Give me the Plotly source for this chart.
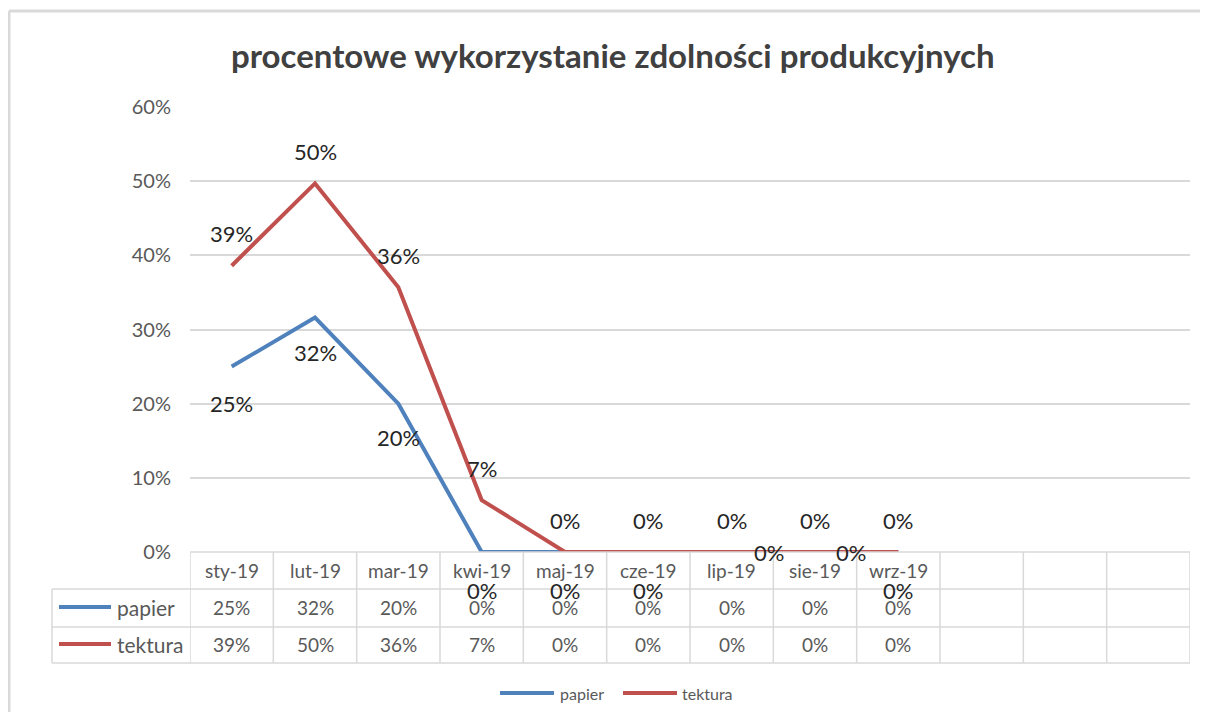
import plotly.graph_objects as go

# ---- data ----
months = ["sty-19", "lut-19", "mar-19", "kwi-19", "maj-19", "cze-19", "lip-19", "sie-19", "wrz-19"]
papier = [0.25, 0.316, 0.20, 0.0, 0.0, 0.0, 0.0, 0.0, 0.0]
tektura = [0.386, 0.497, 0.357, 0.07, 0.0, 0.0, 0.0, 0.0, 0.0]
series_names = ["papier", "tektura"]
title_text = "procentowe wykorzystanie zdolności produkcyjnych"
n_cols = 12  # table has 3 empty columns after the data

# ---- styling ----
OFF = 8                      # page body margin
W, H = 1208 - OFF, 720 - 2 * OFF
FONT = "Lato"
BLUE = "#4f81bd"
RED = "#c0504d"
COLORS = [BLUE, RED]
GRID = "#d9d9d9"
TXT = "#595959"
LBL = "#262626"


def px_x(px):
    return (px - OFF) / W


def px_y(py):
    return 1 - (py - OFF) / H


plot_left, plot_right = 190, 1190
plot_top, plot_bottom = 107, 552
row_y = [552, 589, 627, 663]
row_mid = [570, 607, 644]
table_left = 52

fig = go.Figure()
xs = list(range(len(months)))
fig.add_trace(go.Scatter(x=xs, y=papier, mode="lines", name=series_names[0],
                         line=dict(color=BLUE, width=4), cliponaxis=False))
fig.add_trace(go.Scatter(x=xs, y=tektura, mode="lines", name=series_names[1],
                         line=dict(color=RED, width=4), cliponaxis=False))

annotations = []
shapes = []

# data labels
pap_offsets = [(0, -37), (0, -35), (0, -34), (0, -38), (0, -38), (0, -38), (37, 0), (36, 0), (0, -38)]
for i, v in enumerate(papier):
    dx, dy = pap_offsets[i]
    annotations.append(dict(x=i, y=v, xref="x", yref="y", text=f"{v:.0%}", showarrow=False,
                            xanchor="center", yanchor="middle",
                            xshift=dx, yshift=dy, font=dict(family=FONT, size=22, color=LBL)))
for i, v in enumerate(tektura):
    annotations.append(dict(x=i, y=v, xref="x", yref="y", text=f"{v:.0%}", showarrow=False,
                            xanchor="center", yanchor="middle",
                            xshift=0, yshift=32, font=dict(family=FONT, size=22, color=LBL)))

# data table
for i, m in enumerate(months):
    annotations.append(dict(x=i, y=px_y(row_mid[0]), xref="x", yref="paper", text=m, showarrow=False,
                            xanchor="center", yanchor="middle",
                            font=dict(family=FONT, size=19, color=TXT)))
for r, vals in enumerate([papier, tektura]):
    yy = row_mid[r + 1]
    for i, v in enumerate(vals):
        annotations.append(dict(x=i, y=px_y(yy), xref="x", yref="paper", text=f"{v:.0%}",
                                showarrow=False, xanchor="center", yanchor="middle",
                                font=dict(family=FONT, size=19, color=TXT)))
    annotations.append(dict(x=px_x(115), y=px_y(yy), xref="paper", yref="paper",
                            text=series_names[r], showarrow=False, xanchor="left", yanchor="middle",
                            font=dict(family=FONT, size=21, color=TXT)))
    shapes.append(dict(type="line", xref="paper", yref="paper", x0=px_x(59), x1=px_x(111),
                       y0=px_y(yy), y1=px_y(yy), line=dict(color=COLORS[r], width=4)))

# table grid lines
shapes.append(dict(type="line", xref="x", yref="paper", x0=-0.5, x1=n_cols - 0.5,
                   y0=px_y(row_y[0]), y1=px_y(row_y[0]), line=dict(color=GRID, width=1.5)))
for yy in row_y[1:]:
    shapes.append(dict(type="line", xref="paper", yref="paper", x0=px_x(table_left), x1=px_x(plot_right),
                       y0=px_y(yy), y1=px_y(yy), line=dict(color=GRID, width=1.5)))
for c in range(n_cols + 1):
    shapes.append(dict(type="line", xref="x", yref="paper", x0=c - 0.5, x1=c - 0.5,
                       y0=px_y(row_y[0]), y1=px_y(row_y[-1]), line=dict(color=GRID, width=1.5)))
shapes.append(dict(type="line", xref="paper", yref="paper", x0=px_x(table_left), x1=px_x(table_left),
                   y0=px_y(row_y[1]), y1=px_y(row_y[-1]), line=dict(color=GRID, width=1.5)))

# bottom legend (drawn manually to match the long line keys)
leg_y = 693
leg_items = [(500, 554, 558), (623, 677, 680)]
for r, (x0, x1, xt) in enumerate(leg_items):
    shapes.append(dict(type="line", xref="paper", yref="paper", x0=px_x(x0), x1=px_x(x1),
                       y0=px_y(leg_y), y1=px_y(leg_y), line=dict(color=COLORS[r], width=4)))
    annotations.append(dict(x=px_x(xt), y=px_y(leg_y), xref="paper", yref="paper",
                            text=series_names[r], showarrow=False, xanchor="left", yanchor="middle",
                            font=dict(family=FONT, size=16, color=TXT)))

# chart border (top and left edges; the others lie outside the view)
shapes.append(dict(type="line", xref="paper", yref="paper", x0=px_x(9), x1=px_x(1230),
                   y0=px_y(11), y1=px_y(11), line=dict(color=GRID, width=3), layer="below"))
shapes.append(dict(type="line", xref="paper", yref="paper", x0=px_x(9), x1=px_x(9),
                   y0=px_y(11), y1=px_y(740), line=dict(color=GRID, width=3), layer="below"))

annotations.append(dict(x=px_x(613), y=px_y(55), xref="paper", yref="paper",
                        text=f"<b>{title_text}</b>", showarrow=False,
                        xanchor="center", yanchor="middle",
                        font=dict(family=FONT, size=33, color="#404040")))

fig.update_layout(
    width=W, height=H,
    margin=dict(l=0, r=0, t=0, b=0, autoexpand=False),
    paper_bgcolor="white", plot_bgcolor="white",
    showlegend=False,
    xaxis=dict(domain=[px_x(plot_left), px_x(plot_right)], range=[-0.5, n_cols - 0.5],
               showticklabels=False, showgrid=False, zeroline=False, showline=False,
               automargin=False),
    yaxis=dict(domain=[px_y(plot_bottom), px_y(plot_top)], range=[0, 0.6], dtick=0.1,
               tickformat=".0%", tickfont=dict(family=FONT, size=20, color=TXT),
               gridcolor=GRID, gridwidth=1.5, zeroline=False, showline=False,
               ticklabelstandoff=18, automargin=False),
    annotations=annotations,
    shapes=shapes,
)

fig.write_html("out.html", config={"displayModeBar": False})
